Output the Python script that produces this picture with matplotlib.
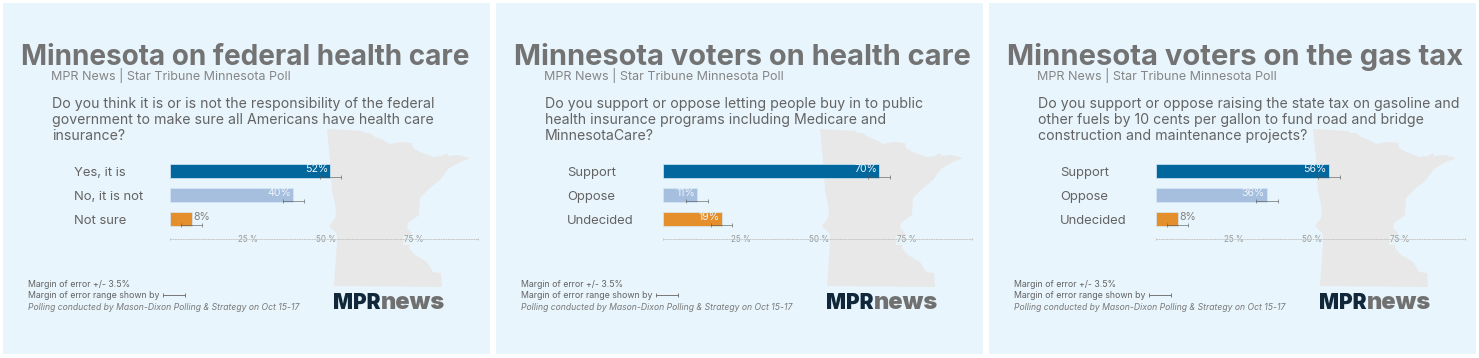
import matplotlib
matplotlib.use('Agg')
import matplotlib.pyplot as plt

# Poll data for the three panels
titles = ['Minnesota on federal health care',
          'Minnesota voters on health care',
          'Minnesota voters on the gas tax']
questions = [
    ['Do you think it is or is not the responsibility of the federal',
     'government to make sure all Americans have health care',
     'insurance?'],
    ['Do you support or oppose letting people buy in to public',
     'health insurance programs including Medicare and',
     'MinnesotaCare?'],
    ['Do you support or oppose raising the state tax on gasoline and',
     'other fuels by 10 cents per gallon to fund road and bridge',
     'construction and maintenance projects?'],
]
categories = [['Yes, it is', 'No, it is not', 'Not sure'],
              ['Support', 'Oppose', 'Undecided'],
              ['Support', 'Oppose', 'Undecided']]
# bar lengths as drawn; the 8% bars are drawn a little short in the original
values = [[52, 40, 7], [70, 11, 19], [56, 36, 7]]
value_labels = [['52%', '40%', '8%'], ['70%', '11%', '19%'], ['56%', '36%', '8%']]
margin = 3.5
bar_colors = ['#02679c', '#a6bfde', '#e58e2c']
# the axis labels do not sit evenly on the percent scale in the original
tick_pos = [25.4, 50.7, 79]
tick_labels = ['25 %', '50 %', '75 %']

# Outline of the state behind each chart, in pixels of the first panel
map_x = [327, 363, 364, 370, 375, 383, 390, 400, 412, 413, 420, 433, 442, 447, 448, 458, 470,
         460, 448, 440, 430, 420, 419, 408, 407, 412, 409, 415, 427, 433, 441, 442, 334, 337,
         336, 329, 335, 336, 332, 330]
map_y = [129, 131, 133, 133, 137, 140, 144, 142, 143, 148, 152, 157, 156, 153, 156, 155, 158,
         162, 169, 180, 188, 198, 215, 223, 228, 233, 248, 255, 262, 272, 273, 287, 286, 242,
         233, 226, 218, 210, 190, 160]

W, H = 1479, 358
panel_offset = [0, 493, 986]
title_size = [20.1, 20.9, 21.0]
ink = '#737373'
text_col = '#636363'
panel_col = '#e8f5fc'
font = 'Inter'

fig = plt.figure(figsize=(W / 100, H / 100), dpi=100, facecolor='white')
bg = fig.add_axes([0, 0, 1, 1])
bg.set_xlim(0, W)
bg.set_ylim(H, 0)
bg.axis('off')


def label(x, y, s, size, color=text_col, **kw):
    bg.text(x, y, s, fontsize=size, color=color, family=font, va='baseline', **kw)


for i, off in enumerate(panel_offset):
    bg.fill_between([3 + off, 490 + off], 3, 354, color=panel_col, lw=0, zorder=0)
    bg.fill([x + off for x in map_x], map_y, color='#e8e8e8', lw=0, zorder=1)

    label(21 + off, 65, titles[i], title_size[i], ink, fontweight='bold')
    label(51 + off, 80, 'MPR News | Star Tribune Minnesota Poll', 9.0, '#858585')
    for j, line in enumerate(questions[i]):
        label(52 + off, 108 + j * 16, line, 10.15)
    for j, cat in enumerate(categories[i]):
        label(74 + off, 176 + j * 24, cat, 9.4)

    label(28 + off, 287, 'Margin of error +/- 3.5%', 6.3)
    label(28 + off, 297.5, 'Margin of error range shown by', 6.3)
    label(28 + off, 309.5, 'Polling conducted by Mason-Dixon Polling & Strategy on Oct 15-17',
          6.2, '#7a7a7a', fontstyle='italic')
    bg.errorbar([174.2 + off], [294.5], xerr=[10.8], color='#777777', lw=0.7, capsize=1.6,
                capthick=0.7)

    label(333 + off, 309, 'MPR', 15, '#10283a', fontweight='black')
    label(381 + off, 309, 'news', 17, '#707070', fontweight='black')

    # Bars are on their own axes so that x is in percent
    left, right = 170 + off, 478.5 + off
    top, bottom = 159.3, 238.7
    ax = fig.add_axes([left / W, 1 - bottom / H, (right - left) / W, (bottom - top) / H])
    ax.patch.set_alpha(0)
    ax.set_xlim(0, 100)
    ax.set_ylim(2.808, -0.5)
    rows = list(range(len(values[i])))
    ax.barh(rows, values[i], height=0.585, color=bar_colors, edgecolor='#d5e8f5', lw=0.5)
    ax.errorbar(values[i], [r + 0.225 for r in rows], xerr=margin, fmt='none', ecolor='#555555',
                alpha=0.6, elinewidth=0.7, capsize=1.6, capthick=0.7, clip_on=False)
    for r, v, s in zip(rows, values[i], value_labels[i]):
        if v > 10:
            ax.annotate(s, (v, r), xytext=(-1.5, 2), textcoords='offset points', ha='right',
                        va='center', fontsize=7.6, color='#eef4fa', family=font)
        else:
            ax.annotate(s, (v, r), xytext=(1, 2), textcoords='offset points', ha='left',
                        va='center', fontsize=7.6, color='#808080', family=font)

    for side in ['top', 'right', 'left']:
        ax.spines[side].set_visible(False)
    ax.spines['bottom'].set_linestyle((0, (1, 1.6)))
    ax.spines['bottom'].set_color('#c8c8c8')
    ax.spines['bottom'].set_linewidth(0.7)
    ax.set_yticks([])
    ax.set_xticks(tick_pos)
    ax.set_xticklabels(tick_labels, fontsize=5.8, color='#999999', family=font)
    ax.tick_params(axis='x', length=0, pad=-2.4)
    ax.set_xticks([0, 100], minor=True)
    ax.tick_params(axis='x', which='minor', length=2, width=0.6, color='#b8b8b8', direction='inout')
    for t in ax.get_xticklabels():
        t.set_bbox(dict(facecolor=panel_col, edgecolor='none', pad=0.6, alpha=0.85))

fig.savefig('out.png', dpi=100, facecolor='white')
